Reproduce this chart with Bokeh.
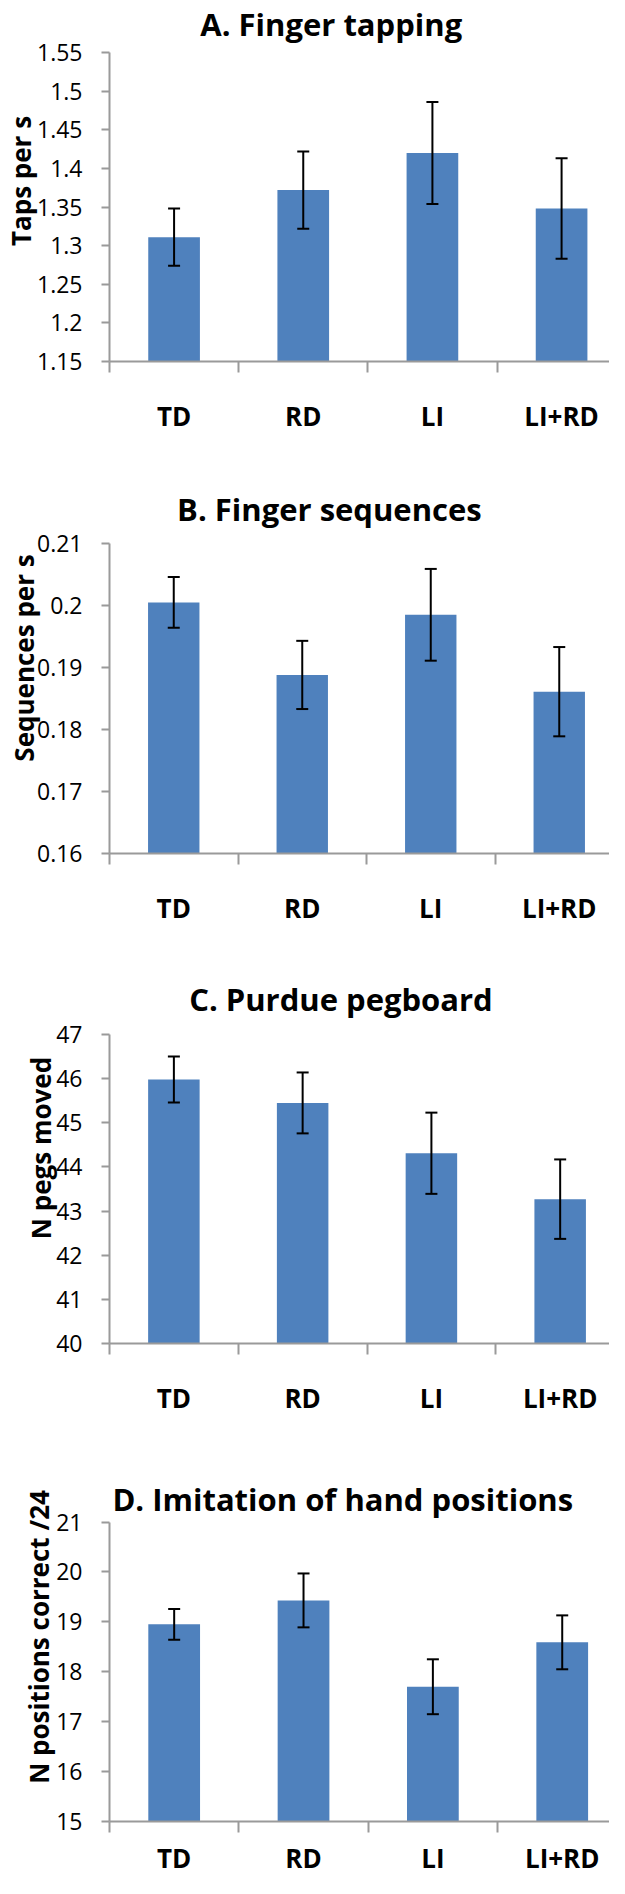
import math
from bokeh.plotting import figure
from bokeh.layouts import column
from bokeh.models import Range1d, FixedTicker, Whisker, TeeHead, Label, ColumnDataSource
from bokeh.embed import file_html
from bokeh.resources import INLINE

# ---------------- data ----------------
categories = ["TD", "RD", "LI", "LI+RD"]

tap_title = "A. Finger tapping"
tap_ylabel = "Taps per s"
tap_mean = [1.311, 1.372, 1.420, 1.348]
tap_se = [0.037, 0.050, 0.066, 0.065]
tap_ticks = [1.15, 1.2, 1.25, 1.3, 1.35, 1.4, 1.45, 1.5, 1.55]
tap_tick_labels = ["1.15", "1.2", "1.25", "1.3", "1.35", "1.4", "1.45", "1.5", "1.55"]

seq_title = "B. Finger sequences"
seq_ylabel = "Sequences per s"
seq_mean = [0.2005, 0.1888, 0.1985, 0.1861]
seq_se = [0.0041, 0.0055, 0.0074, 0.0072]
seq_ticks = [0.16, 0.17, 0.18, 0.19, 0.2, 0.21]
seq_tick_labels = ["0.16", "0.17", "0.18", "0.19", "0.2", "0.21"]

peg_title = "C. Purdue pegboard"
peg_ylabel = "N pegs moved"
peg_mean = [45.98, 45.45, 44.31, 43.27]
peg_se = [0.52, 0.69, 0.92, 0.90]
peg_ticks = [40, 41, 42, 43, 44, 45, 46, 47]
peg_tick_labels = ["40", "41", "42", "43", "44", "45", "46", "47"]

imit_title = "D. Imitation of hand positions"
imit_ylabel = "N positions correct /24"
imit_mean = [18.95, 19.43, 17.70, 18.59]
imit_se = [0.31, 0.54, 0.55, 0.54]
imit_ticks = [15, 16, 17, 18, 19, 20, 21]
imit_tick_labels = ["15", "16", "17", "18", "19", "20", "21"]

# ---------------- style ----------------
BAR = "#4F81BD"
AXIS = "#9a9a9a"
FONT = "Open Sans"
W = 609


def panel(title, ylabel, mean, se, ticks, tick_labels,
          fig_top, fig_h, frame_left, axis_top, axis_bottom, cat_w,
          title_x, title_base, xlab_standoff, ylab_standoff):
    ymin, ymax = ticks[0], ticks[-1]
    lb = int(round(frame_left - 8))
    frame_h = int(round(axis_bottom - fig_top))
    bb = fig_h - frame_h
    frame_w = W - lb
    x_end = frame_w / cat_w
    ppu = (axis_bottom - axis_top) / (ymax - ymin)
    y_top = ymax + (axis_top - fig_top) / ppu

    def dx(px):
        return (px - (lb + 8)) / cat_w

    def dy(py):
        return ymax + (axis_top - py) / ppu

    p = figure(width=W, height=fig_h, x_range=Range1d(0, x_end),
               y_range=Range1d(ymin, y_top), output_backend="svg",
               toolbar_location=None, min_border_left=lb, min_border_right=0,
               min_border_top=0, min_border_bottom=bb)
    p.outline_line_color = None
    p.grid.visible = False
    p.background_fill_color = "white"

    centers = [i + 0.5 for i in range(len(categories))]
    bounds = [float(i) for i in range(len(categories) + 1)]
    src = ColumnDataSource(dict(
        x=centers, top=mean,
        upper=[m + s for m, s in zip(mean, se)],
        lower=[m - s for m, s in zip(mean, se)]))
    p.vbar(x="x", top="top", bottom=ymin, width=0.4, source=src,
           fill_color=BAR, line_color=None)

    wh = Whisker(base="x", upper="upper", lower="lower", source=src,
                 line_color="black", line_width=2, level="annotation",
                 upper_head=TeeHead(size=12, line_width=2, line_color="black"),
                 lower_head=TeeHead(size=12, line_width=2, line_color="black"))
    p.add_layout(wh)

    xa = p.xaxis[0]
    xa.ticker = FixedTicker(ticks=centers, minor_ticks=bounds)
    xa.major_label_overrides = {c: n for c, n in zip(centers, categories)}
    xa.axis_line_color = AXIS
    xa.axis_line_width = 2
    xa.major_tick_in = 0
    xa.major_tick_out = 0
    xa.minor_tick_in = 0
    xa.minor_tick_out = 11
    xa.minor_tick_line_color = AXIS
    xa.minor_tick_line_width = 2
    xa.major_label_text_font = FONT
    xa.major_label_text_font_style = "bold"
    xa.major_label_text_font_size = "26px"
    xa.major_label_text_color = "black"
    xa.major_label_standoff = xlab_standoff

    ya = p.yaxis[0]
    ya.bounds = (ymin, ymax)
    ya.ticker = FixedTicker(ticks=ticks, minor_ticks=[])
    ya.major_label_overrides = {t: l for t, l in zip(ticks, tick_labels)}
    ya.axis_line_color = AXIS
    ya.axis_line_width = 2
    ya.major_tick_in = 0
    ya.major_tick_out = 8
    ya.major_tick_line_color = AXIS
    ya.major_tick_line_width = 2
    ya.minor_tick_line_color = None
    ya.major_label_text_font = FONT
    ya.major_label_text_font_size = "23px"
    ya.major_label_text_color = "black"
    ya.major_label_standoff = 19
    ya.axis_label = ylabel
    ya.axis_label_text_font = FONT
    ya.axis_label_text_font_style = "bold"
    ya.axis_label_text_font_size = "26px"
    ya.axis_label_text_color = "black"
    ya.axis_label_standoff = ylab_standoff

    p.add_layout(Label(x=dx(title_x), y=dy(title_base), text=title,
                       text_font=FONT, text_font_style="bold",
                       text_font_size="31px", text_align="center",
                       text_baseline="alphabetic", text_color="black"))
    return p


pa = panel(tap_title, tap_ylabel, tap_mean, tap_se, tap_ticks, tap_tick_labels,
           fig_top=8, fig_h=462, frame_left=113, axis_top=60, axis_bottom=369,
           cat_w=130.2, title_x=336.5, title_base=31, xlab_standoff=25,
           ylab_standoff=-5)
pb = panel(seq_title, seq_ylabel, seq_mean, seq_se, seq_ticks, seq_tick_labels,
           fig_top=470, fig_h=490, frame_left=110, axis_top=551, axis_bottom=861,
           cat_w=130.3, title_x=333, title_base=516.7, xlab_standoff=25,
           ylab_standoff=-8)
pc = panel(peg_title, peg_ylabel, peg_mean, peg_se, peg_ticks, peg_tick_labels,
           fig_top=960, fig_h=500, frame_left=92, axis_top=1042, axis_bottom=1351,
           cat_w=135.2, title_x=335, title_base=1006.7, xlab_standoff=25,
           ylab_standoff=-6)
pd_ = panel(imit_title, imit_ylabel, imit_mean, imit_se, imit_ticks, imit_tick_labels,
            fig_top=1460, fig_h=426, frame_left=94, axis_top=1532, axis_bottom=1842,
            cat_w=135.3, title_x=338, title_base=1508, xlab_standoff=7,
            ylab_standoff=-4)

layout = column(pa, pb, pc, pd_, spacing=0)
open("out.html", "w").write(file_html(layout, INLINE))
